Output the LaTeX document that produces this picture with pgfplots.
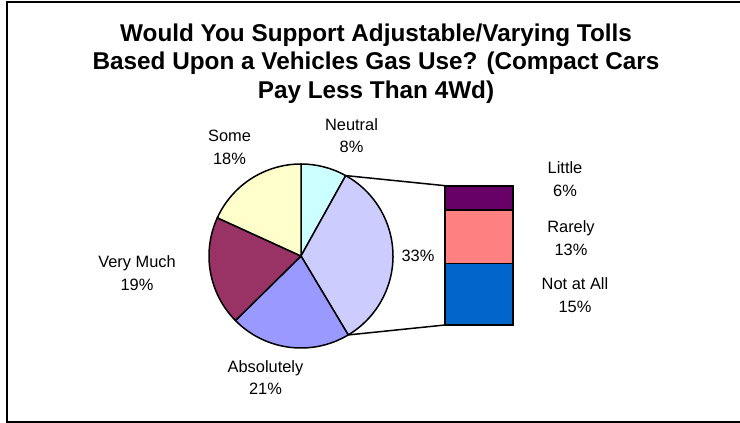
\documentclass[border=0pt]{standalone}
\usepackage{pgfplots}
\pgfplotsset{compat=1.18}
\usepackage{fontspec}
\setmainfont{Liberation Sans}

\definecolor{cNeutral}{HTML}{CCFFFF}
\definecolor{cOther}{HTML}{CCCCFF}
\definecolor{cAbsolutely}{HTML}{9999FF}
\definecolor{cVeryMuch}{HTML}{993366}
\definecolor{cSome}{HTML}{FFFFCC}
\definecolor{cLittle}{HTML}{660066}
\definecolor{cRarely}{HTML}{FF8080}
\definecolor{cNotAtAll}{HTML}{0066CC}

% pie: share in percent / fill colour, clockwise from 12 o'clock
\newcommand\piedata{8/cNeutral, 33/cOther, 21/cAbsolutely, 19/cVeryMuch, 18/cSome}
\newcommand\pietotal{99}
% breakdown of the 33% slice, bottom to top
\newcommand\bardata{15/cNotAtAll, 13/cRarely, 6/cLittle}
\newcommand\bartotal{34}

% geometry (units = pt, y measured upwards)
\newcommand\pcx{301}\newcommand\pcy{167}\newcommand\pr{92}
\newcommand\bxl{445}\newcommand\bxr{513}
\newcommand\byb{98}\newcommand\byt{237.3}

\newcommand\labfont{\fontsize{16.4}{19}\selectfont}
\newcommand\titlefont{\bfseries\fontsize{24.3}{28}\selectfont}
% two-line label: x, baseline of first line (from top), text, text
\newcommand\lab[4]{%
  \node[anchor=base,font=\labfont,inner sep=0pt] at (axis cs:#1,{423-#2}) {#3};
  \node[anchor=base,font=\labfont,inner sep=0pt] at (axis cs:#1,{423-#2-22.5}) {#4};}

\begin{document}
\begin{tikzpicture}
\fill[white] (0,0) rectangle (740pt,423pt);
\begin{axis}[
  at={(0,0)}, anchor=south west,
  x=1pt, y=1pt, scale only axis,
  xmin=0, xmax=740, ymin=0, ymax=423,
  hide axis, clip=false,
]
  % outer frame, open on the right where it runs off the page
  \draw[line width=2pt, line cap=butt, line join=miter]
    (axis cs:740,421) -- (axis cs:7,421) -- (axis cs:7,1) -- (axis cs:740,1);

  % pie slices
  \xdef\cum{0}
  \foreach \v/\c in \piedata {
    \pgfmathsetmacro\a{90-\cum/\pietotal*360}
    \pgfmathsetmacro\b{90-(\cum+\v)/\pietotal*360}
    \edef\tmp{\noexpand\filldraw[fill=\c, draw=black, line width=1.5pt, line join=round]
      (axis cs:\pcx,\pcy) -- ++(\a:\pr pt) arc[start angle=\a, end angle=\b, radius=\pr pt] -- cycle;}
    \tmp
    \pgfmathsetmacro\n{\cum+\v}
    \xdef\cum{\n}
  }

  % stacked breakdown bar
  \xdef\cum{0}
  \foreach \v/\c in \bardata {
    \pgfmathsetmacro\ya{\byb+(\byt-\byb)*(\cum/\bartotal)}
    \pgfmathsetmacro\yb{\byb+(\byt-\byb)*((\cum+\v)/\bartotal)}
    \edef\tmp{\noexpand\addplot[fill=\c, draw=black, line width=1.8pt]
      coordinates {(\bxl,\ya) (\bxr,\ya) (\bxr,\yb) (\bxl,\yb)} -- cycle;}
    \tmp
    \pgfmathsetmacro\n{\cum+\v}
    \xdef\cum{\n}
  }

  % connector lines from the 33% slice to the bar
  \pgfmathsetmacro\aone{90-8/\pietotal*360}
  \pgfmathsetmacro\atwo{90-41/\pietotal*360}
  \edef\tmp{\noexpand\draw[line width=1.5pt] (axis cs:\pcx,\pcy) ++(\aone:\pr pt) -- (axis cs:\bxl,\byt);}
  \tmp
  \edef\tmp{\noexpand\draw[line width=1.5pt] (axis cs:\pcx,\pcy) ++(\atwo:\pr pt) -- (axis cs:\bxl,\byb);}
  \tmp

  % title
  \node[anchor=base,font=\titlefont,inner sep=0pt] at (axis cs:376,{423-41.5}) {Would You Support Adjustable/Varying Tolls};
  \node[anchor=base,font=\titlefont,inner sep=0pt] at (axis cs:376,{423-70}) {Based Upon a Vehicles Gas Use? (Compact Cars};
  \node[anchor=base,font=\titlefont,inner sep=0pt] at (axis cs:376,{423-98.5}) {Pay Less Than 4Wd)};

  % slice labels
  \lab{351.5}{130.5}{Neutral}{8\%}
  \lab{229.5}{142}{Some}{18\%}
  \lab{137}{268}{Very Much}{19\%}
  \lab{265.5}{372.5}{Absolutely}{21\%}
  \node[anchor=base,font=\labfont,inner sep=0pt] at (axis cs:418,{423-261.7}) {33\%};
  \lab{565}{174}{Little}{6\%}
  \lab{571}{233}{Rarely}{13\%}
  \lab{575}{290}{Not at All}{15\%}
\end{axis}
\pgfresetboundingbox
\path[use as bounding box] (0,0) rectangle (740pt,423pt);
\end{tikzpicture}
\end{document}
